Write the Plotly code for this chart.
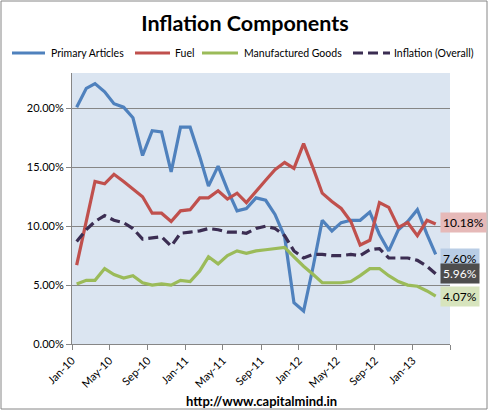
import plotly.graph_objects as go

months = [f"{y}-{m:02d}-16" for y in range(2010, 2014) for m in range(1, 13)][:39]

primary = [20.1, 21.7, 22.1, 21.4, 20.4, 20.1, 19.2, 16.0, 18.1, 18.0, 14.6, 18.4, 18.4,
           15.9, 13.4, 15.1, 13.1, 11.3, 11.5, 12.4, 12.2, 11.0, 9.1, 3.5, 2.8, 6.6,
           10.5, 9.6, 10.3, 10.5, 10.5, 11.2, 9.3, 7.9, 9.7, 10.4, 11.4, 9.3, 7.60]
fuel = [6.7, 10.3, 13.8, 13.6, 14.4, 13.8, 13.2, 12.5, 11.1, 11.1, 10.4, 11.3, 11.4,
        12.4, 12.4, 13.0, 12.3, 12.8, 12.0, 12.9, 13.9, 14.8, 15.4, 14.9, 17.0, 14.9,
        12.8, 12.1, 11.5, 10.4, 8.4, 8.8, 12.0, 11.6, 9.9, 10.3, 9.2, 10.5, 10.18]
manufactured = [5.1, 5.4, 5.4, 6.4, 5.9, 5.6, 5.8, 5.2, 5.0, 5.1, 5.0, 5.4, 5.3,
                6.2, 7.4, 6.8, 7.5, 7.9, 7.7, 7.9, 8.0, 8.1, 8.2, 7.4, 6.6, 5.9,
                5.2, 5.2, 5.2, 5.3, 5.8, 6.4, 6.4, 5.8, 5.3, 5.0, 4.9, 4.5, 4.07]
overall = [8.7, 9.7, 10.4, 10.9, 10.5, 10.3, 9.8, 8.9, 9.0, 9.1, 8.3, 9.4, 9.5,
           9.6, 9.8, 9.7, 9.5, 9.5, 9.4, 9.8, 10.0, 9.8, 9.2, 7.9, 7.3, 7.6,
           7.6, 7.5, 7.5, 7.6, 7.5, 8.0, 8.1, 7.3, 7.3, 7.3, 7.1, 6.6, 5.96]

series_names = ["Primary Articles", "Fuel", "Manufactured Goods", "Inflation (Overall)"]
series_colors = ["#4F81BD", "#C0504D", "#9BBB59", "#3B2D52"]
label_bg = ["#B9CDE5", "#E6B9B8", "#D7E4BD", "#4D4D4D"]
label_fg = ["black", "black", "black", "white"]
label_shift = [-4, 2, 0, 0]

tick_vals = ["2010-01-01", "2010-05-01", "2010-09-01", "2011-01-01", "2011-05-01",
             "2011-09-01", "2012-01-01", "2012-05-01", "2012-09-01", "2013-01-01", "2013-05-01"]
tick_text = ["Jan-10", "May-10", "Sep-10", "Jan-11", "May-11", "Sep-11",
             "Jan-12", "May-12", "Sep-12", "Jan-13", ""]

FONT = "Lato"
W, H = 489, 412
ML, MR, MT, MB = 72, 39, 73, 68
PW, PH = W - ML - MR, H - MT - MB


def px(x):
    return (x - ML) / PW


def py(y):
    return (H - MB - y) / PH


fig = go.Figure()
all_series = [primary, fuel, manufactured, overall]
dashes = ["solid", "solid", "solid", "10px,5px"]
for name, vals, col, dsh in zip(series_names, all_series, series_colors, dashes):
    fig.add_trace(go.Scatter(
        x=months, y=[v / 100 for v in vals], name=name, mode="lines",
        line=dict(color=col, width=3.2, dash=dsh), showlegend=False,
    ))

# legend drawn manually to match the original single-row layout
legend_line_x = [(12, 45), (135, 170), (202, 238), (353, 390)]
legend_text_x = [49, 173, 242, 392]
LEG_Y = 53
for name, col, dsh, (a, b), tx in zip(series_names, series_colors, dashes, legend_line_x, legend_text_x):
    fig.add_shape(type="line", xref="paper", yref="paper", x0=px(a), x1=px(b),
                  y0=py(LEG_Y), y1=py(LEG_Y), line=dict(color=col, width=3.2, dash=dsh))
    fig.add_annotation(x=px(tx), y=py(LEG_Y), xref="paper", yref="paper",
                       xanchor="left", yanchor="middle", text=name, showarrow=False,
                       font=dict(family=FONT, size=10.5, color="black"))

for vals, bg, fg, sh in zip(all_series, label_bg, label_fg, label_shift):
    fig.add_annotation(
        x=months[-1], y=vals[-1] / 100, xref="x", yref="y",
        text=f"{vals[-1]:.2f}%", showarrow=False, xanchor="left", xshift=4, yshift=sh,
        bgcolor=bg, font=dict(family=FONT, size=12, color=fg), borderpad=2,
    )

fig.add_annotation(x=0.5, y=py(401), xref="paper", yref="paper", yanchor="middle",
                   text="<b>http://www.capitalmind.in</b>", showarrow=False,
                   font=dict(family=FONT, size=13, color="black"))

fig.add_shape(type="rect", xref="paper", yref="paper",
              x0=px(1), x1=px(487), y0=py(409), y1=py(1),
              line=dict(color="#868686", width=1), fillcolor="rgba(0,0,0,0)", layer="below")

fig.update_layout(
    width=W, height=H,
    margin=dict(l=ML, r=MR, t=MT, b=MB),
    paper_bgcolor="white", plot_bgcolor="#DBE5F1",
    title=dict(text="<b>Inflation Components</b>", x=245 / W, xanchor="center",
               y=(H - 23) / H, yanchor="middle", font=dict(family=FONT, size=21.5, color="black")),
    font=dict(family=FONT, size=11, color="black"),
    showlegend=False,
    xaxis=dict(type="date", range=["2010-01-01", "2013-05-01"],
               tickmode="array", tickvals=tick_vals, ticktext=tick_text,
               tickangle=-45, ticks="outside", ticklen=5, tickcolor="#868686",
               showgrid=False, showline=True, linecolor="#868686", linewidth=1,
               tickfont=dict(family=FONT, size=11)),
    yaxis=dict(range=[0, 0.23], tickvals=[0, 0.05, 0.10, 0.15, 0.20],
               tickformat=".2%", ticks="outside", ticklen=5, tickcolor="#868686",
               showgrid=True, gridcolor="#868686", gridwidth=1,
               showline=True, linecolor="#868686", linewidth=1, zeroline=False,
               tickfont=dict(family=FONT, size=11)),
)

fig.write_html("out.html", config={"displayModeBar": False},
               post_script="document.body.style.margin='0';")
